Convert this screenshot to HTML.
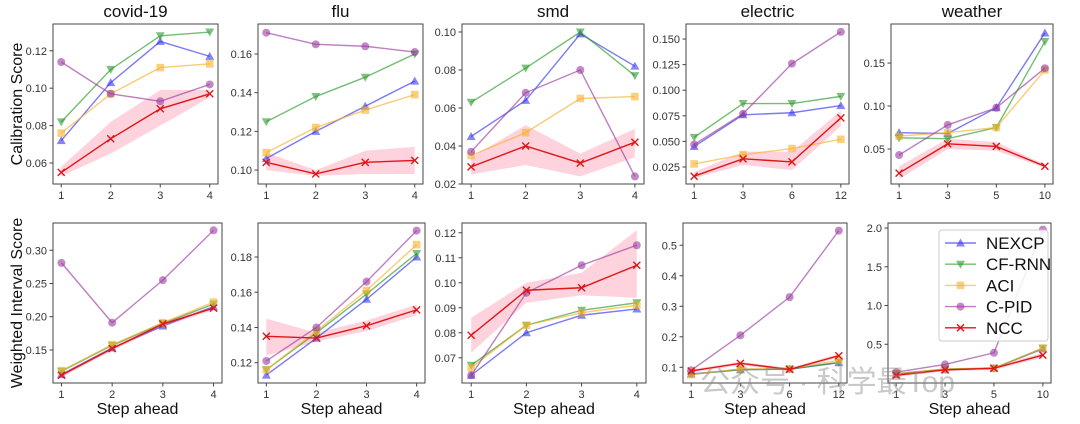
<!DOCTYPE html>
<html><head><meta charset="utf-8">
<style>
html,body{margin:0;padding:0;background:#fff;}
svg{display:block;font-family:"Liberation Sans","Noto Sans CJK SC",sans-serif;}
</style></head>
<body>
<svg id="chart" width="1080" height="424" viewBox="0 0 1080 424" xmlns="http://www.w3.org/2000/svg">
<text x="0" y="0" transform="translate(22,104) rotate(-90)" text-anchor="middle" font-size="16" fill="#111">Calibration Score</text>
<text x="0" y="0" transform="translate(22,303) rotate(-90)" text-anchor="middle" font-size="16" fill="#111">Weighted Interval Score</text>
</svg>
<script>
// ---- data ----
const methods = ['NEXCP','CF-RNN','ACI','C-PID','NCC'];
const titles = ['covid-19','flu','smd','electric','weather'];
const stepsStd = ['1','2','3','4'];
const stepsElectric = ['1','3','6','12'];
const stepsWeather = ['1','3','5','10'];

// calibration score (top row)
const covidCalNEXCP=[.072,.103,.125,.117], covidCalCFRNN=[.082,.110,.128,.130], covidCalACI=[.076,.097,.111,.113], covidCalCPID=[.114,.097,.093,.102], covidCalNCC=[.055,.073,.089,.097], covidCalLo=[.053,.065,.080,.095], covidCalHi=[.058,.082,.099,.099];
const fluCalNEXCP=[.106,.120,.133,.146], fluCalCFRNN=[.125,.138,.148,.160], fluCalACI=[.109,.122,.131,.139], fluCalCPID=[.171,.165,.164,.161], fluCalNCC=[.104,.098,.104,.105], fluCalLo=[.100,.097,.098,.098], fluCalHi=[.109,.100,.110,.112];
const smdCalNEXCP=[.045,.064,.099,.082], smdCalCFRNN=[.063,.081,.100,.077], smdCalACI=[.035,.047,.065,.066], smdCalCPID=[.037,.068,.080,.024], smdCalNCC=[.029,.040,.031,.042], smdCalLo=[.025,.030,.024,.034], smdCalHi=[.034,.051,.036,.049];
const elecCalNEXCP=[.045,.076,.078,.085], elecCalCFRNN=[.054,.087,.087,.094], elecCalACI=[.028,.037,.043,.052], elecCalCPID=[.047,.077,.126,.157], elecCalNCC=[.016,.033,.030,.073], elecCalLo=[.014,.027,.022,.065], elecCalHi=[.020,.040,.040,.080];
const weaCalNEXCP=[.069,.068,.098,.185], weaCalCFRNN=[.063,.062,.075,.175], weaCalACI=[.065,.069,.075,.142], weaCalCPID=[.043,.078,.098,.144], weaCalNCC=[.022,.056,.053,.030], weaCalLo=[.015,.050,.048,.028], weaCalHi=[.030,.062,.058,.032];

// weighted interval score (bottom row)
const covidWisNEXCP=[.113,.153,.186,.215], covidWisCFRNN=[.118,.157,.190,.219], covidWisACI=[.119,.158,.191,.222], covidWisCPID=[.281,.191,.255,.330], covidWisNCC=[.112,.152,.189,.213], covidWisLo=[.109,.149,.185,.210], covidWisHi=[.115,.155,.193,.216];
const fluWisNEXCP=[.113,.134,.156,.180], fluWisCFRNN=[.116,.137,.159,.182], fluWisACI=[.116,.138,.161,.187], fluWisCPID=[.121,.140,.166,.195], fluWisNCC=[.135,.134,.141,.150], fluWisLo=[.124,.132,.138,.147], fluWisHi=[.145,.137,.144,.153];
const smdWisNEXCP=[.063,.080,.087,.0895], smdWisCFRNN=[.067,.083,.089,.092], smdWisACI=[.066,.083,.088,.091], smdWisCPID=[.063,.096,.107,.115], smdWisNCC=[.079,.097,.098,.107], smdWisLo=[.072,.092,.095,.094], smdWisHi=[.086,.100,.104,.121];
const elecWisNEXCP=[.078,.092,.094,.115], elecWisCFRNN=[.077,.092,.094,.116], elecWisACI=[.076,.095,.095,.123], elecWisCPID=[.090,.205,.330,.548], elecWisNCC=[.088,.113,.093,.138], elecWisLo=[.083,.107,.088,.132], elecWisHi=[.093,.118,.098,.144];
const weaWisNEXCP=[.11,.17,.19,.44], weaWisCFRNN=[.12,.18,.19,.45], weaWisACI=[.12,.18,.19,.45], weaWisCPID=[.14,.24,.39,1.98], weaWisNCC=[.10,.17,.19,.36], weaWisLo=[.08,.15,.17,.33], weaWisHi=[.12,.19,.21,.39];

// tick values
const covidCalTicks=[.06,.08,.10,.12], fluCalTicks=[.10,.12,.14,.16], smdCalTicks=[.02,.04,.06,.08,.10], elecCalTicks=[.025,.05,.075,.1,.125,.15], weaCalTicks=[.05,.10,.15];
const covidWisTicks=[.15,.20,.25,.30], fluWisTicks=[.12,.14,.16,.18], smdWisTicks=[.07,.08,.09,.10,.11,.12], elecWisTicks=[.1,.2,.3,.4,.5], weaWisTicks=[.5,1.0,1.5,2.0];

// ---- layout (not data) ----
const panels = [
 {id:'covid-cal',title:titles[0],box:[53,24,218,184],ymin:.0488,ymax:.1343,ticks:covidCalTicks,dec:2,xl:stepsStd,s:[covidCalNEXCP,covidCalCFRNN,covidCalACI,covidCalCPID,covidCalNCC],lo:covidCalLo,hi:covidCalHi},
 {id:'flu-cal',title:titles[1],box:[258,24,423,184],ymin:.0928,ymax:.1755,ticks:fluCalTicks,dec:2,xl:stepsStd,s:[fluCalNEXCP,fluCalCFRNN,fluCalACI,fluCalCPID,fluCalNCC],lo:fluCalLo,hi:fluCalHi},
 {id:'smd-cal',title:titles[2],box:[462,24,644,184],ymin:.02,ymax:.1042,ticks:smdCalTicks,dec:2,xl:stepsStd,s:[smdCalNEXCP,smdCalCFRNN,smdCalACI,smdCalCPID,smdCalNCC],lo:smdCalLo,hi:smdCalHi},
 {id:'electric-cal',title:titles[3],box:[686,24,849,184],ymin:.0084,ymax:.1647,ticks:elecCalTicks,dec:3,xl:stepsElectric,s:[elecCalNEXCP,elecCalCFRNN,elecCalACI,elecCalCPID,elecCalNCC],lo:elecCalLo,hi:elecCalHi},
 {id:'weather-cal',title:titles[4],box:[891,24,1053,184],ymin:.0093,ymax:.1954,ticks:weaCalTicks,dec:2,xl:stepsWeather,s:[weaCalNEXCP,weaCalCFRNN,weaCalACI,weaCalCPID,weaCalNCC],lo:weaCalLo,hi:weaCalHi},
 {id:'covid-wis',box:[53,223,222,383],ymin:.1003,ymax:.341,ticks:covidWisTicks,dec:2,xl:stepsStd,s:[covidWisNEXCP,covidWisCFRNN,covidWisACI,covidWisCPID,covidWisNCC],lo:covidWisLo,hi:covidWisHi},
 {id:'flu-wis',box:[258,223,425,383],ymin:.1085,ymax:.1993,ticks:fluWisTicks,dec:2,xl:stepsStd,s:[fluWisNEXCP,fluWisCFRNN,fluWisACI,fluWisCPID,fluWisNCC],lo:fluWisLo,hi:fluWisHi},
 {id:'smd-wis',box:[462,223,646,383],ymin:.0599,ymax:.1239,ticks:smdWisTicks,dec:2,xl:stepsStd,s:[smdWisNEXCP,smdWisCFRNN,smdWisACI,smdWisCPID,smdWisNCC],lo:smdWisLo,hi:smdWisHi},
 {id:'electric-wis',box:[683,223,847,383],ymin:.0485,ymax:.573,ticks:elecWisTicks,dec:1,xl:stepsElectric,s:[elecWisNEXCP,elecWisCFRNN,elecWisACI,elecWisCPID,elecWisNCC],lo:elecWisLo,hi:elecWisHi},
 {id:'weather-wis',box:[888,223,1051,383],ymin:0,ymax:2.065,ticks:weaWisTicks,dec:1,xl:stepsWeather,s:[weaWisNEXCP,weaWisCFRNN,weaWisACI,weaWisCPID,weaWisNCC],lo:weaWisLo,hi:weaWisHi}
];
const colors=['#3333ee','#2a9a2a','#f7b02a','#9a3aa0','#e01515'];
const alphas=[0.65,0.65,0.65,0.65,1];
const markers=['tri-up','tri-down','square','circle','x'];

const NS='http://www.w3.org/2000/svg';
const svg=document.getElementById('chart');
function mk(tag,attrs,parent){const e=document.createElementNS(NS,tag);for(const k in attrs)e.setAttribute(k,attrs[k]);(parent||svg).appendChild(e);return e;}

function marker(g,type,cx,cy,col,op){
  let e;
  if(type==='tri-up') e=mk('polygon',{points:`${cx},${cy-4.5} ${cx-4.5},${cy+3.5} ${cx+4.5},${cy+3.5}`,fill:col,'fill-opacity':op},g);
  else if(type==='tri-down') e=mk('polygon',{points:`${cx},${cy+4.5} ${cx-4.5},${cy-3.5} ${cx+4.5},${cy-3.5}`,fill:col,'fill-opacity':op},g);
  else if(type==='square') e=mk('rect',{x:cx-3.8,y:cy-3.8,width:7.6,height:7.6,fill:col,'fill-opacity':op},g);
  else if(type==='circle') e=mk('circle',{cx:cx,cy:cy,r:4,fill:col,'fill-opacity':op},g);
  else e=mk('path',{d:`M${cx-3.5},${cy-3.5}L${cx+3.5},${cy+3.5}M${cx-3.5},${cy+3.5}L${cx+3.5},${cy-3.5}`,stroke:col,'stroke-width':1.4,fill:'none'},g);
  
  
}

panels.forEach(p=>{
  const [x0,y0,x1,y1]=p.box, w=x1-x0, h=y1-y0, n=p.xl.length;
  const X=i=>x0+w*(0.05+0.9*i/(n-1));
  const Y=v=>y1-(v-p.ymin)/(p.ymax-p.ymin)*h;
  const g=mk('g',{});
  
  
  if(p.title){
    const t=mk('text',{x:(x0+x1)/2,y:y0-7,'text-anchor':'middle','font-size':17,fill:'#111'},g);
    t.textContent=p.title;
    
    
  }
  // band
  let d='';
  p.hi.forEach((v,i)=>{d+=(i?'L':'M')+X(i)+','+Y(v);});
  for(let i=n-1;i>=0;i--) d+='L'+X(i)+','+Y(p.lo[i]);
  const band=mk('path',{d:d+'Z',fill:'#ffb6c6','fill-opacity':0.6},g);
  
  
  // series
  p.s.forEach((arr,si)=>{
    const pts=arr.map((v,i)=>X(i)+','+Y(v)).join(' ');
    const l=mk('polyline',{points:pts,fill:'none',stroke:colors[si],'stroke-opacity':alphas[si],'stroke-width':1.4},g);
    
    
    arr.forEach((v,i)=>marker(g,markers[si],X(i),Y(v),colors[si],si===4?1:0.6));
  });
  // frame
  const fr=mk('rect',{x:x0,y:y0,width:w,height:h,fill:'none',stroke:'#444','stroke-width':1},g);
  
  
  // y ticks
  p.ticks.forEach(v=>{
    const yy=Y(v);
    mk('line',{x1:x0-3.5,x2:x0,y1:yy,y2:yy,stroke:'#444'},g);
    const t=mk('text',{x:x0-6,y:yy+4,'text-anchor':'end','font-size':11,fill:'#333'},g);
    t.textContent=v.toFixed(p.dec);
    
    
  });
  // x ticks
  p.xl.forEach((lab,i)=>{
    const xx=X(i);
    mk('line',{x1:xx,x2:xx,y1:y1,y2:y1+3.5,stroke:'#444'},g);
    const t=mk('text',{x:xx,y:y1+15,'text-anchor':'middle','font-size':11,fill:'#333'},g);
    t.textContent=lab;
    
    
  });
  if(y0>200){
    const t=mk('text',{x:(x0+x1)/2,y:414,'text-anchor':'middle','font-size':16,fill:'#111'},g);
    t.textContent='Step ahead';
    
    
  }
});

// legend
const lg=mk('g',{});


mk('rect',{x:939,y:230,width:109,height:111,rx:3,fill:'#fff','fill-opacity':0.85,stroke:'#ccc'},lg);
methods.forEach((m,i)=>{
  const yy=243+i*21.2;
  const e=mk('g',{},lg);
  
  
  mk('line',{x1:945,x2:976,y1:yy,y2:yy,stroke:colors[i],'stroke-opacity':alphas[i],'stroke-width':1.4},e);
  marker(e,markers[i],960.5,yy,colors[i],i===4?1:0.6);
  const t=mk('text',{x:986,y:yy+6,'font-size':17,fill:'#111'},e);
  t.textContent=m;
});

// watermark
const wm=mk('text',{x:700,y:392,'font-size':30,fill:'#888','fill-opacity':0.45});
wm.textContent='公众号 · 科学最Top';


</script>
</body></html>
